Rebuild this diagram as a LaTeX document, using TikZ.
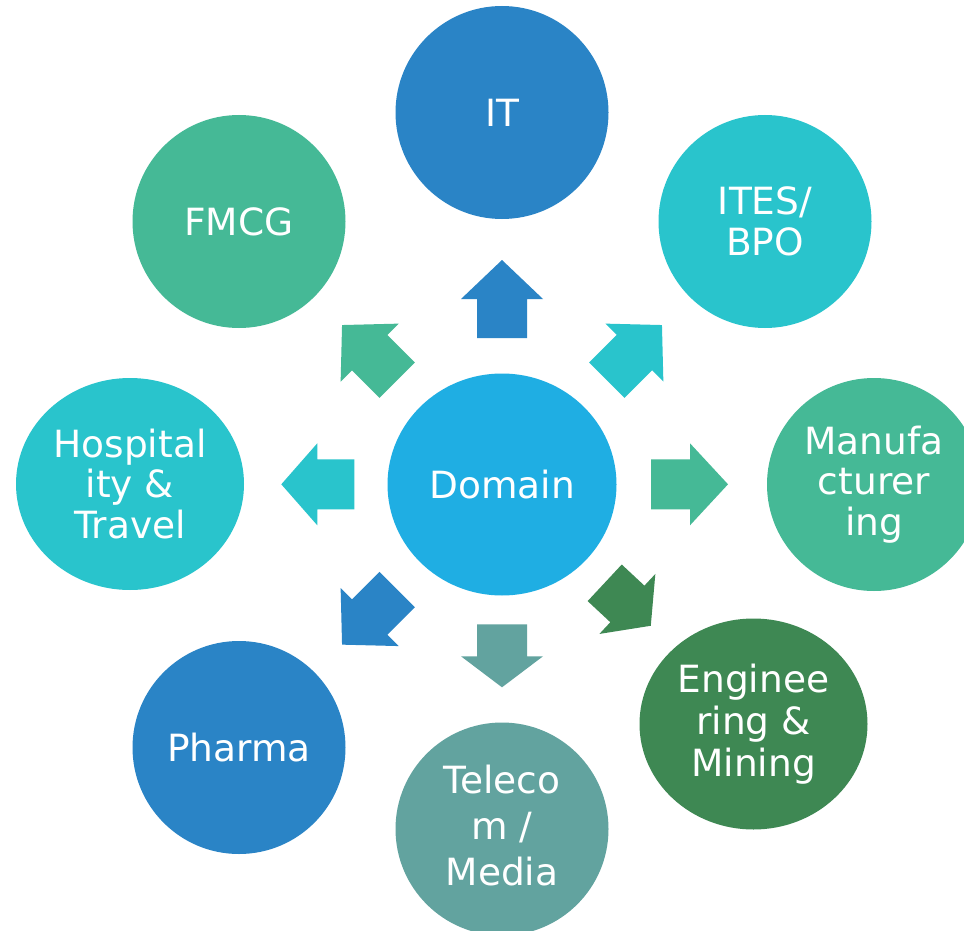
\documentclass[tikz,border=0pt]{standalone}
\usepackage{fontspec}
\setmainfont{DejaVu Sans}
\usetikzlibrary{shapes.geometric}
\definecolor{cIT}{HTML}{2A84C6}
\definecolor{cDom}{HTML}{1FAEE3}
\definecolor{cTeal}{HTML}{29C4CC}
\definecolor{cGreen}{HTML}{45B996}
\definecolor{cDGreen}{HTML}{3E8853}
\definecolor{cGray}{HTML}{62A39F}
\tikzset{
  bubble/.style={ellipse, fill=#1, draw=none, inner sep=0pt, text=white, align=center,
    font=\fontsize{37.5}{40.5}\selectfont},
}
% block arrow: colour, rear-mid x, y, angle, length, head length
\newcommand{\blockarr}[6]{%
  \fill[#1, shift={(#2,#3)}, rotate=#4]
    (0,-25) -- ({#5-#6},-25) -- ({#5-#6},-41) -- (#5,0) -- ({#5-#6},41) -- ({#5-#6},25) -- (0,25) -- cycle;}
\begin{document}
\begin{tikzpicture}[x=1pt,y=-1pt]
\useasboundingbox (0,0) rectangle (964,931);
\fill[white] (0,0) rectangle (964,931);

\node[bubble=cDom, minimum width=229pt, minimum height=222pt] (dom) at (502,484.5) {Domain};
\node[bubble=cIT, minimum size=213pt] (it) at (502,112.5) {IT};
\node[bubble=cTeal, minimum size=213pt] (ites) at (765,221.5) {ITES/\\BPO};
\node[bubble=cGreen, minimum width=214pt, minimum height=213pt] (manu) at (874,484.5) {Manufa\\cturer\\ing};
\node[bubble=cDGreen, minimum width=228pt, minimum height=211pt] (eng) at (753.5,724) {Enginee\\[1.5pt]ring \&\\[1.5pt]Mining};
\node[bubble=cGray, minimum size=213pt] (tel) at (502,829) {};
\node[text=white, align=center, inner sep=0pt, font=\fontsize{37.5}{40.5}\selectfont] (tellbl) at (502,826) {Teleco\\[5.5pt]m /\\[5.5pt]Media};
\node[bubble=cIT, minimum size=213pt] (pharma) at (239,747.5) {Pharma};
\node[bubble=cTeal, minimum width=228pt, minimum height=212pt] (hosp) at (130,484) {Hospital\\ity \&\\Travel};
\node[bubble=cGreen, minimum size=213pt] (fmcg) at (239,221.5) {FMCG};

\blockarr{cIT}{502}{338}{90}{78}{39}
\blockarr{cTeal}{606.8}{380.2}{45}{78}{39}
\blockarr{cGreen}{651}{484.3}{0}{77}{38}
\blockarr{cDGreen}{604.7}{582.8}{-43}{63}{32}
\blockarr{cGray}{502}{624.3}{-90}{63}{31}
\blockarr{cIT}{397.2}{589.5}{-135}{78}{39}
\blockarr{cTeal}{354.3}{484.3}{180}{73}{36}
\blockarr{cGreen}{397.2}{380.2}{135}{78}{39}
\end{tikzpicture}
\end{document}
